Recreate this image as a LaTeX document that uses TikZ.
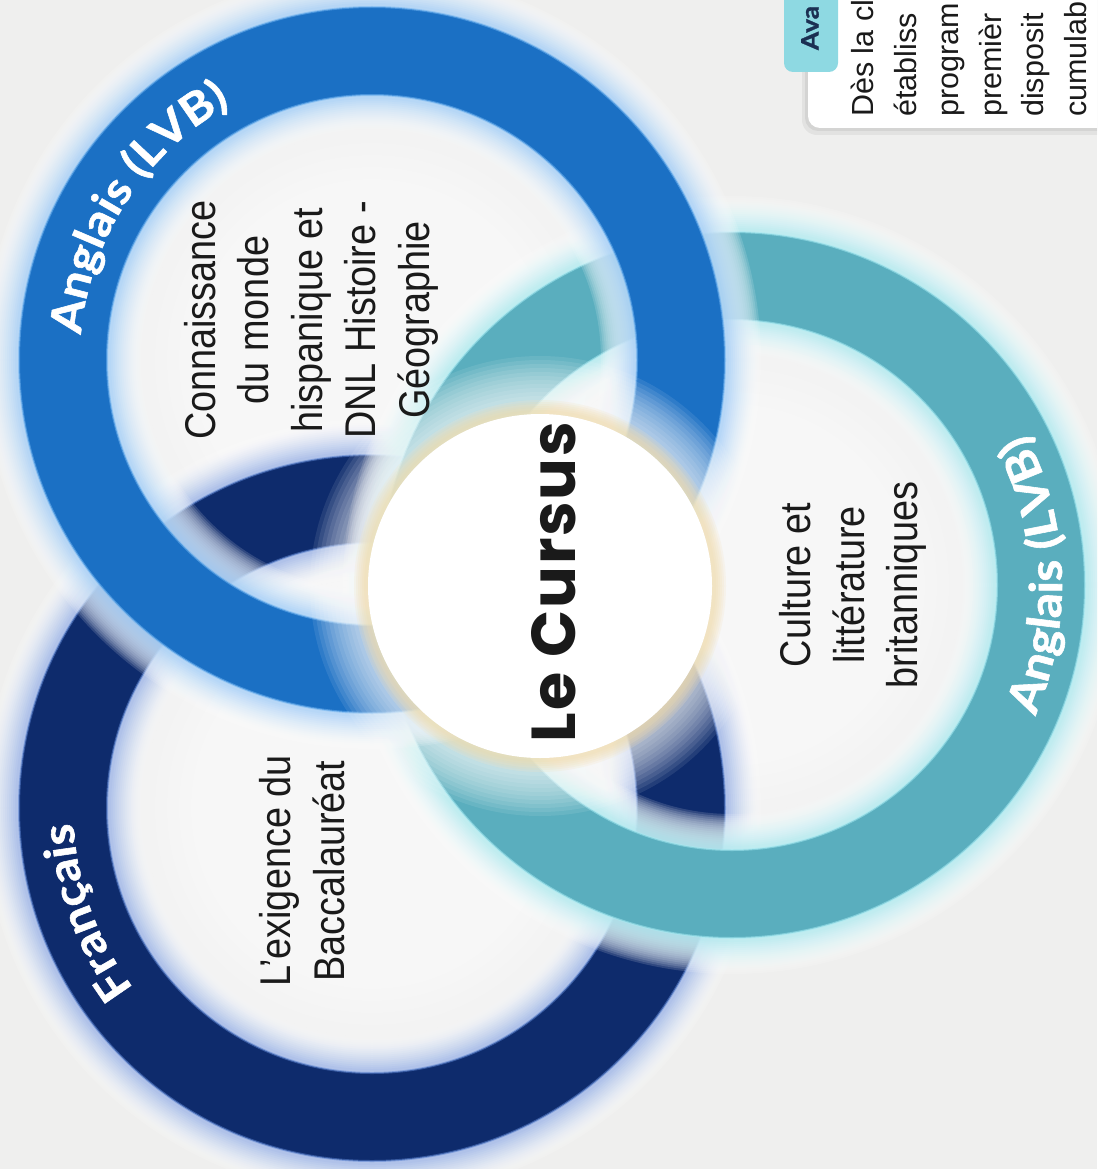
\documentclass[tikz,border=0pt]{standalone}
\usepackage{fontspec}
\setmainfont{Liberation Sans}
\newfontfamily\condfont{Liberation Sans}[FakeStretch=0.88]
\newfontfamily\popfont{Poppins}
\newfontfamily\labfont{Lato}[FakeStretch=1.1, FakeBold=1.3]
\usetikzlibrary{decorations.text}
\definecolor{bgc}{HTML}{EFEFEE}
\definecolor{blueR}{HTML}{1B70C4}
\definecolor{navyR}{HTML}{0E2B6C}
\definecolor{tealR}{HTML}{5AAEBE}
\definecolor{blueG}{HTML}{7DBBF5}
\definecolor{navyG}{HTML}{6F93DC}
\definecolor{tealG}{HTML}{8FE3EC}
\definecolor{blueE}{HTML}{6FB3F0}
\definecolor{navyE}{HTML}{5A82D0}
\definecolor{tealE}{HTML}{A6EAF2}
\definecolor{creamG}{HTML}{F1D9A2}
\definecolor{tabc}{HTML}{8ED9E2}
\definecolor{inkc}{HTML}{1A1A1A}
\definecolor{avac}{HTML}{1B2F52}
\newcommand\myring[4]{%
  \foreach \i in {0,...,16}{%
    \pgfmathsetmacro\w{160-4*\i}%
    \pgfmathtruncatemacro\p{\i*5}%
    \draw[line width=\w pt, draw=#3!\p!white, opacity=0.14] (#1) circle[radius=309pt];}
  \draw[line width=88pt, draw=#2] (#1) circle[radius=309pt];
  \draw[line width=2pt, draw=#4, opacity=.55] (#1) circle[radius=353pt] (#1) circle[radius=265pt];
}
\newcommand\myhaze[1]{%
  \foreach \i in {0,...,9}{%
    \pgfmathsetmacro\r{265-12*\i}%
    \fill[white, opacity=0.12] (#1) circle[radius=\r pt];}
}
\tikzset{
  body/.style={rotate=90, align=center, text=inkc, font=\condfont\fontsize{43}{53.5}\selectfont},
  arclabel/.style={decorate, decoration={text along path, text align=center, text color=white}},
}
\begin{document}
\begin{tikzpicture}[x=1pt,y=-1pt]
\useasboundingbox (0,0) rectangle (1097,1169);
\clip (0,0) rectangle (1097,1169);
\fill[bgc] (0,0) rectangle (1097,1169);

% card at top right
\fill[black, opacity=0.05, rounded corners=15pt] (802,-30) rectangle (1130,135);
\fill[black, opacity=0.06, rounded corners=13pt] (805,-30) rectangle (1130,131);
\fill[white, rounded corners=12pt] (808,-30) rectangle (1130,128);
\fill[tabc, rounded corners=9pt] (784,-30) rectangle (838,72);
\node[rotate=90, text=avac, font=\labfont\bfseries\fontsize{24}{24}\selectfont, inner sep=0pt] (ava) at (810,28) {Ava};
\node[rotate=90, anchor=north west, align=left, text=inkc, inner sep=0pt,
      font=\fontsize{30.5}{42.5}\selectfont] (card) at (851,117)
  {Dès la cl\\établiss\\program\\premièr\\disposit\\cumulab};

% rings
\coordinate (B) at (372,360);
\coordinate (N) at (372,808);
\coordinate (T) at (732,585);
\coordinate (C) at (540,586);
\myhaze{B}
\myhaze{N}
\myhaze{T}
\myring{N}{navyR}{navyG}{navyE}
\myring{T}{tealR}{tealG}{tealE}
\myring{B}{blueR}{blueG}{blueE}

% centre disc
\foreach \i in {0,...,14}{%
  \pgfmathsetmacro\r{230-4*\i}%
  \fill[white, opacity=0.09] (C) circle[radius=\r pt];}
\foreach \i in {0,...,5}{%
  \pgfmathsetmacro\r{186-2*\i}%
  \fill[creamG, opacity=0.14] (C) circle[radius=\r pt];}
\fill[white] (C) circle[radius=172pt];
\node[rotate=90, text=inkc, font=\popfont\bfseries\fontsize{62}{62}\selectfont\addfontfeature{LetterSpace=3}] (cursus) at (554,582) {Le Cursus};

% arc labels
\path[arclabel, decoration={text={|\labfont\bfseries\fontsize{44}{44}\selectfont|Anglais (LVB)}}]
  (B) ++(200:292pt) arc[start angle=200, end angle=94, radius=292pt];
\path[arclabel, decoration={text={|\labfont\bfseries\fontsize{45}{45}\selectfont|Anglais (LVB)}}]
  (T) ++(-40:330pt) arc[start angle=-40, end angle=44, radius=330pt];
\path[arclabel, decoration={text={|\labfont\bfseries\fontsize{44}{44}\selectfont|Français}}]
  (N) ++(235:299pt) arc[start angle=235, end angle=165, radius=299pt];

% body texts
\node[body] (t1) at (311,320) {Connaissance\\du monde\\hispanique et\\DNL Histoire -\\Géographie};
\node[body] (t2) at (853,585) {Culture et\\littérature\\britanniques};
\node[body] (t3) at (302,871) {L’exigence du\\Baccalauréat};
\end{tikzpicture}
\end{document}
